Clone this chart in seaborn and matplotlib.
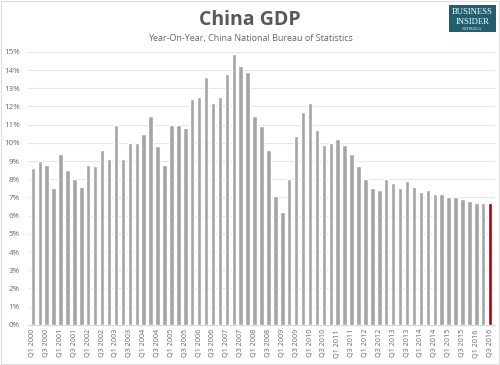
import matplotlib
matplotlib.use("Agg")
import matplotlib.pyplot as plt
import seaborn as sns
import pandas as pd
from matplotlib.ticker import FuncFormatter

# quarterly year-on-year GDP growth, %
years = list(range(2000, 2017))
gdp = [8.6, 9.0, 8.8, 7.5,  9.4, 8.5, 8.0, 7.6,  8.8, 8.7, 9.6, 9.1,
       11.0, 9.1, 10.0, 10.0,  10.5, 11.5, 9.8, 8.8,  11.0, 11.0, 10.8, 12.4,
       12.5, 13.6, 12.2, 12.5,  13.8, 14.9, 14.2, 13.9,  11.5, 10.9, 9.6, 7.1,
       6.2, 8.0, 10.4, 11.7,  12.2, 10.7, 9.9, 10.0,  10.2, 9.9, 9.4, 8.7,
       8.0, 7.5, 7.4, 8.0,  7.8, 7.5, 7.9, 7.6,  7.3, 7.4, 7.2, 7.2,
       7.0, 7.0, 6.9, 6.8,  6.7, 6.7, 6.7]
quarters = [f"Q{q} {y}" for y in years for q in range(1, 5)][:len(gdp)]

df = pd.DataFrame({"quarter": quarters, "gdp": gdp})
colors = ["#A5A5A5"] * (len(gdp) - 1) + ["#B30000"]

sns.set_style("white")
plt.rcParams["font.family"] = ["Open Sans", "DejaVu Sans"]

fig = plt.figure(figsize=(5, 3.65), dpi=100)
ax = fig.add_axes([0.056, 0.11, 0.934, 0.748])

sns.barplot(data=df, x="quarter", y="gdp", hue="quarter", palette=colors,
            legend=False, width=0.64, saturation=1, ax=ax, zorder=3)

ax.set_ylim(0, 15)
ax.set_yticks(range(0, 16))
ax.yaxis.set_major_formatter(FuncFormatter(lambda v, p: f"{int(v)}%"))
ax.grid(axis="y", color="#E6E6E6", linewidth=0.8, zorder=0)
ax.set_xlim(-0.7, len(gdp) - 0.3)
ax.set_xticks(range(0, len(gdp), 2))
ax.set_xticklabels(quarters[::2], rotation=90, fontsize=5.2, color="#666666")
ax.tick_params(axis="y", labelsize=5.8, colors="#666666", length=0, pad=6)
ax.tick_params(axis="x", length=0, pad=3)
ax.set_xlabel("")
ax.set_ylabel("")
for s in ["top", "right", "left"]:
    ax.spines[s].set_visible(False)
ax.spines["bottom"].set_color("#D9D9D9")

fig.text(0.5, 0.945, "China GDP", ha="center", va="center",
         fontsize=14, fontweight="bold", color="#595959")
fig.text(0.5, 0.895, "Year-On-Year, China National Bureau of Statistics",
         ha="center", va="center", fontsize=6.5, color="#666666")

# logo box
fig.patches.append(plt.Rectangle((0.898, 0.912), 0.094, 0.075, transform=fig.transFigure,
                                 fc="#1F5F6E", ec="none"))
serif = ["Liberation Serif", "DejaVu Serif"]
fig.text(0.945, 0.968, "BUSINESS", ha="center", va="center", fontsize=6.2,
         color="white", family=serif)
fig.text(0.945, 0.940, "INSIDER", ha="center", va="center", fontsize=6.2,
         color="white", family=serif)
fig.text(0.945, 0.920, "AUSTRALIA", ha="center", va="center", fontsize=2.6,
         color="white", family=serif)

fig.patches.append(plt.Rectangle((0.002, 0.003), 0.996, 0.994, transform=fig.transFigure,
                                 fill=False, ec="#DDDDDD", lw=0.8))

fig.savefig("out.png", dpi=100)
